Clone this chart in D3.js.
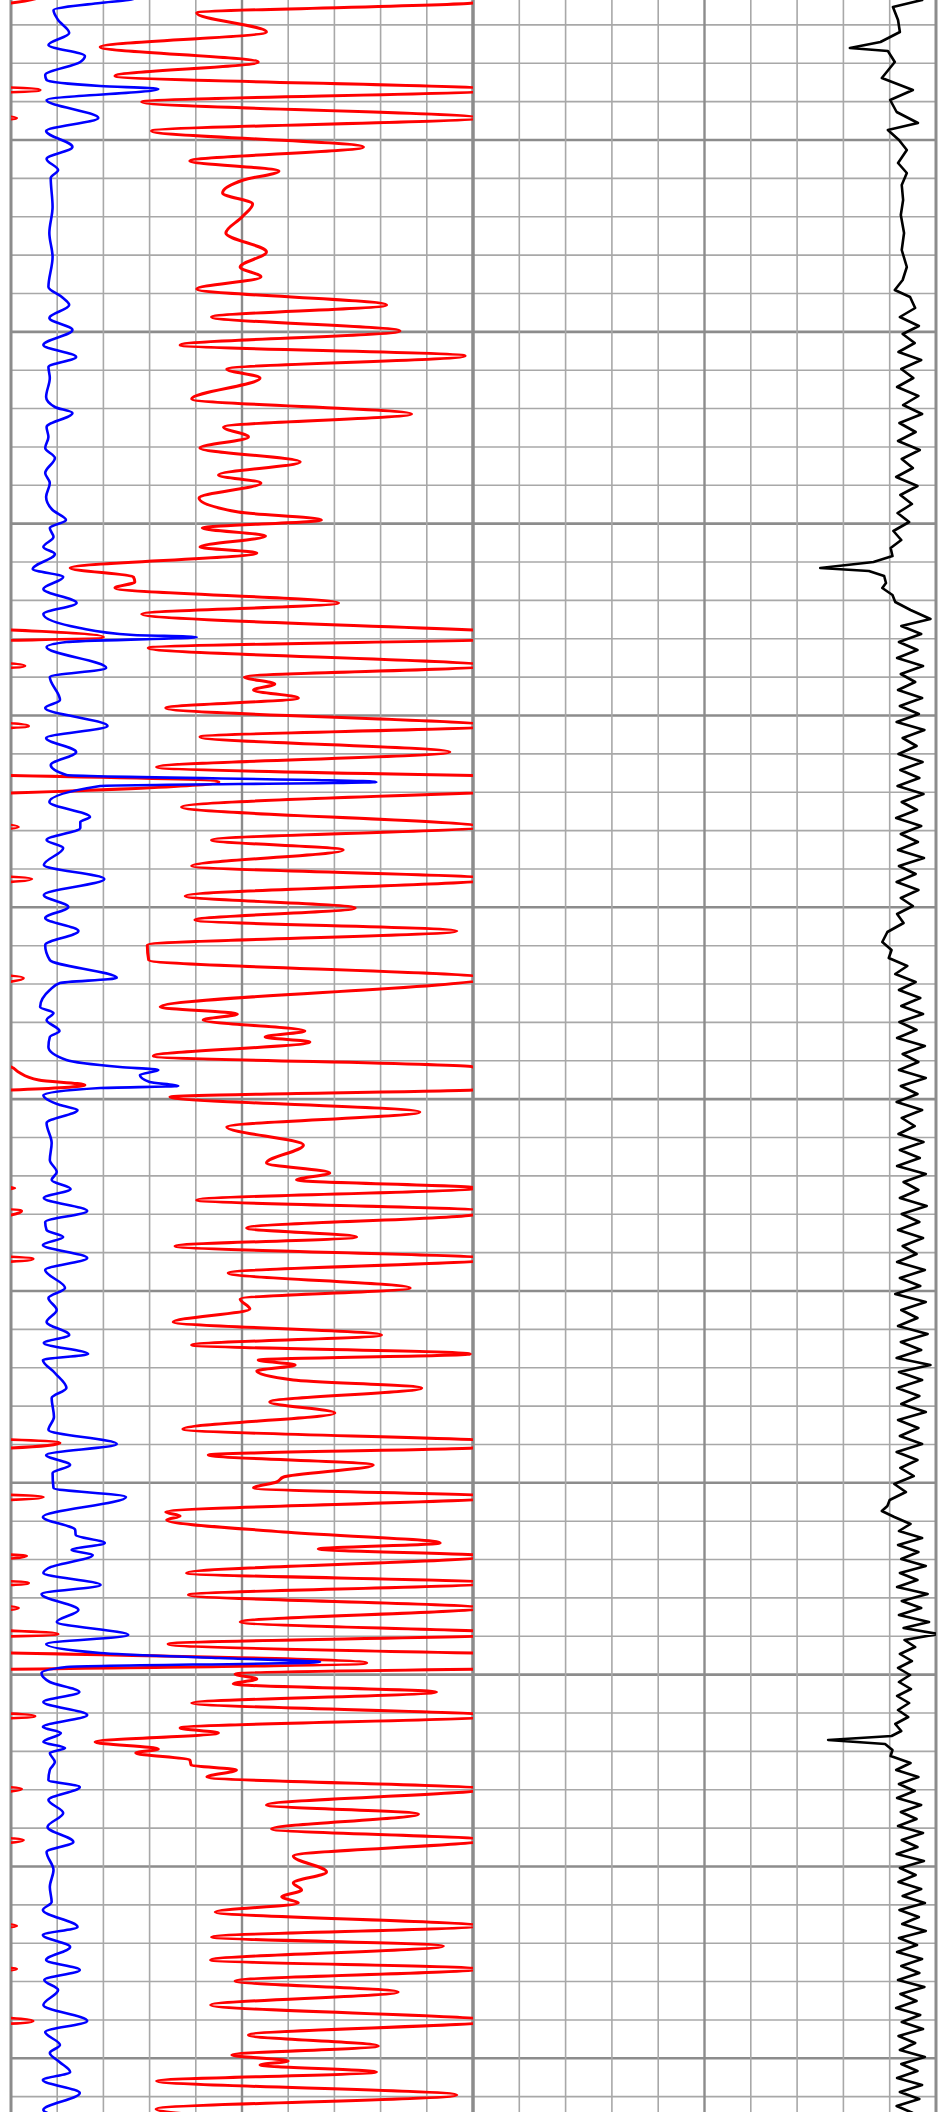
<!DOCTYPE html>
<html><head><meta charset="utf-8">
<script src="https://cdn.jsdelivr.net/npm/d3@7"></script>
<style>html,body{margin:0;padding:0;background:#fff;}svg{display:block}</style>
</head><body>
<svg id="chart" width="945" height="2112"></svg>
<script>
// depth range shown (m)
const depthRange = [1500, 1711.2];
// grid: minor step and a reference major line
const gridStep = 3.8366;
const gridMajorDepth = 1514.0;
const trackTicks = [0,10,20,30,40,50,60,70,80,90,100];
const majorTicks = [0,50,100];
// red curve (left track, 0-100 scale with backup wrap 100-200)
const redCurve = [
[1499.6,107],[1500.3,100],[1501.3,40.2],[1503.2,55.3],[1504.7,19.3],[1506.2,53.5],[1507.6,22.5],[1509.0,106.3],[1510.2,28.3],
[1511.8,101.2],[1513.1,30.4],[1514.7,76.3],[1516.1,38.7],[1517.1,58],[1518.0,50.3],[1519.3,45.8],[1520.4,52.3],[1521.7,50],
[1523.3,46.5],[1525.2,55.3],[1526.7,49.6],[1527.7,54.1],[1528.9,40.2],[1530.5,81.3],[1531.7,43.4],[1533.1,84.2],[1534.5,36.6],
[1535.6,98.3],[1536.9,46.7],[1537.8,53.9],[1539.9,39.1],[1541.4,86.7],[1542.7,46],[1543.7,51.4],[1544.8,40.9],[1546.2,62.6],
[1547.5,44.9],[1548.3,54.1],[1549.8,40.7],[1551.2,49.2],[1552.0,67.2],[1552.8,41.4],[1553.6,55.1],[1554.7,40.9],[1555.3,53.2],
[1556.8,12.8],[1557.7,26.5],[1558.2,26.8],[1558.8,22.5],[1560.3,70.9],[1561.4,28.3],[1563.7,120],[1564.8,29.7],[1566.6,103],
[1567.7,50.5],[1568.4,57.1],[1569.0,52.5],[1569.8,62.2],[1570.8,33.5],[1572.6,103.8],[1573.7,40.9],[1575.2,95],[1576.7,31.5],
[1578.2,145],[1580.7,36.9],[1582.7,101.6],[1584.0,43.4],[1585.0,71.9],[1586.6,39.1],[1587.9,104.5],[1589.6,37.7],[1590.8,74.5],
[1592.0,39.8],[1593.1,96.5],[1594.5,29.5],[1596.0,29.8],[1597.8,102.7],[1600.7,32.3],[1601.4,49],[1602.0,41.6],[1603.1,63.6],
[1603.7,55],[1604.2,64.7],[1605.6,30.8],[1606.7,100],[1607.2,101.6],[1608.0,106],[1608.5,116],[1609.0,100],[1609.7,34.4],
[1611.2,88.5],[1612.7,46.7],[1614.5,63.3],[1616.3,55.3],[1617.3,69],[1618.0,61.8],[1618.8,100.8],[1620.0,40.2],[1621.1,102.3],
[1621.5,100],[1622.8,51],[1623.7,74.8],[1624.6,35.5],[1625.9,104.8],[1627.3,47],[1628.8,86.4],[1629.9,49.6],[1630.9,51.7],
[1632.2,35.1],[1633.5,80.2],[1634.5,39.1],[1635.4,99.4],[1636.0,53.5],[1636.5,61.5],[1637.1,53.2],[1638.0,61.1],[1638.8,88.9],
[1640.2,56],[1641.3,70.1],[1642.9,37.2],[1644.3,110.6],[1644.8,100],[1645.5,42.7],[1646.5,78.4],[1647.7,59],[1648.2,57.5],
[1648.8,52.5],[1649.7,107],[1651.2,33.5],[1651.6,36.6],[1652.0,33.7],[1653.2,59],[1654.3,92.9],[1654.9,66.5],[1655.6,103.4],
[1657.3,38],[1658.3,103.8],[1659.5,38.4],[1660.8,101.6],[1662.2,49.6],[1663.4,110.2],[1664.4,34],[1666.3,177],[1667.4,48.5],
[1667.9,53.2],[1668.4,48.1],[1669.2,92.1],[1670.3,39.1],[1671.6,105.2],[1672.8,36.6],[1673.3,44.9],[1674.2,18.2],[1674.9,31.9],
[1675.3,27],[1676.0,38.7],[1676.5,39],[1677.0,48.8],[1677.7,42.4],[1678.9,102.3],[1680.5,55.3],[1681.4,88.2],[1682.9,56.4],
[1684.0,102.7],[1685.6,61.1],[1687.2,68.3],[1688.3,61.1],[1689.0,62.9],[1689.7,58.6],[1690.3,62.2],[1691.2,44.2],[1692.6,101.2],
[1693.7,43.4],[1694.6,93.6],[1696.0,43.2],[1696.9,101.2],[1698.1,48.5],[1699.2,83.8],[1700.5,43.2],[1702.1,104.8],[1703.5,51.4],
[1704.6,79.5],[1705.5,47.8],[1706.1,60],[1706.5,53.9],[1707.2,79.1],[1708.1,31.5],[1709.5,96.5],[1710.9,31.4],[1711.5,40]
];
// blue curve (left track, 0-100 scale)
const blueCurve = [
[1499.6,28],[1500.0,25.4],[1500.3,19.3],[1501.0,9.2],[1502.0,10.2],[1503.3,12.6],[1504.5,8.1],[1505.6,16],[1506.2,15],[1507.5,7.4],
[1508.0,7.7],[1508.6,19.3],[1508.9,31.9],[1510.0,7.7],[1511.8,18.9],[1513.1,7.6],[1514.7,13.3],[1515.9,7.7],[1517.0,10.2],
[1517.8,8.6],[1520.7,9],[1523.3,8.3],[1525.7,9],[1528.7,8.1],[1529.7,11],[1530.5,12.6],[1531.8,8.3],[1533.0,13.3],[1534.5,7],
[1535.7,14.1],[1536.7,8.1],[1537.8,8.4],[1539.7,7.6],[1540.7,9.5],[1541.3,13.3],[1542.7,7.7],[1543.7,8.1],[1544.8,7.4],
[1545.8,9.5],[1547.3,7.4],[1548.3,8.4],[1549.7,7.6],[1551.0,9],[1552.0,11.9],[1552.8,8.4],[1553.7,9.2],[1554.7,7],[1555.4,9.5],
[1556.9,4.7],[1557.7,11.3],[1558.9,7],[1560.3,14.2],[1561.4,7],[1562.8,14.9],[1563.5,26.5],[1563.7,40.2],[1564.2,12],
[1564.7,7.7],[1566.8,20.6],[1567.7,8.4],[1570.0,10.6],[1570.8,7.4],[1572.6,20.9],[1573.8,7.6],[1575.2,14.1],[1576.5,8.6],
[1577.5,12],[1578.2,79.1],[1578.6,19.3],[1580.2,8.3],[1581.7,17.1],[1582.2,15],[1582.8,15],[1584.0,7.7],[1584.8,11.3],
[1586.5,7.1],[1587.9,20.2],[1589.5,7.1],[1590.7,12.4],[1591.8,7.4],[1593.1,14.6],[1594.5,7.4],[1596.0,8.4],[1597.8,22.9],
[1598.3,10.6],[1599.0,8.4],[1600.7,6.3],[1601.3,9.2],[1602.0,7.7],[1603.1,10.5],[1603.7,8.4],[1604.7,8.1],[1606.0,12],
[1606.7,23.6],[1607.0,31.9],[1607.5,27.9],[1608.2,30],[1608.6,36.2],[1608.8,19.3],[1609.5,7],[1610.5,10.6],[1611.0,14.4],
[1612.3,7.7],[1614.3,8.8],[1616.0,8.4],[1617.2,9.9],[1618.0,8.8],[1618.9,12.9],[1619.8,7.1],[1621.1,16.5],[1622.2,7.4],
[1623.0,7.7],[1623.7,11.3],[1624.5,6.9],[1625.8,16.5],[1627.0,7.4],[1628.8,11.7],[1629.8,8.1],[1631.0,9.9],[1632.2,7.7],
[1633.5,12.6],[1634.3,7.1],[1635.4,16.7],[1636.0,6.9],[1637.3,9.5],[1638.8,12],[1639.8,8.8],[1641.7,9.3],[1643.0,8.1],
[1644.4,22.9],[1645.5,7.6],[1646.5,12.8],[1647.3,9],[1648.8,9.2],[1649.7,24.9],[1651.7,6.9],[1653.0,13.9],[1653.5,14],
[1654.3,20.3],[1655.0,13.1],[1655.5,17.7],[1656.8,8.1],[1657.3,7],[1658.5,19.4],[1659.4,6.6],[1661.0,14.6],[1662.2,9.9],
[1663.5,25.4],[1664.4,7.6],[1665.3,19.3],[1665.8,45],[1666.2,66.9],[1666.7,12],[1667.3,6.6],[1668.2,8.4],[1669.2,14.8],
[1670.2,7],[1671.5,16.5],[1672.7,6.9],[1673.3,10.8],[1674.2,7],[1674.8,11.7],[1675.3,8.4],[1676.2,9.5],[1677.0,8.4],
[1678.0,8.1],[1678.7,14.9],[1680.0,8.1],[1681.3,11.3],[1682.7,7.9],[1684.2,13.5],[1685.2,7.7],[1687.0,9.2],[1688.7,8.4],
[1690.2,8.8],[1691.0,6.9],[1692.7,14.4],[1693.5,6.9],[1694.7,12.8],[1696.0,7.6],[1697.0,14.9],[1698.0,7.2],[1699.0,10.2],
[1700.5,7],[1702.1,16.5],[1703.2,7.4],[1704.5,10.6],[1705.3,8.4],[1706.2,10.5],[1707.2,12.8],[1708.0,6.9],[1709.3,14.9],
[1711.0,7],[1711.5,9]
];
// black curve (right track, 0-100 scale)
const blackCurve = [
[1499.6,97.5],[1500.0,97],[1500.7,90.7],[1502.0,91.8],[1503.2,92.2],[1504.2,88],[1504.8,81.4],[1505.1,89.6],[1506.2,91.1],[1507.8,88.3],
[1509.0,95],[1510.0,90.1],[1511.2,91.5],[1512.3,96.1],[1513.0,89.6],[1514.0,92],[1515.0,93.7],[1516.3,91.8],[1517.3,93.7],[1518.5,92.6],
[1520.0,92.9],[1521.5,92.4],[1523.3,93.1],[1525.0,92.6],[1526.7,93.7],[1528.0,92.8],[1529.0,91.1],[1529.7,94.4],
[1530.8,95.5],[1531.7,92.2],[1532.6,96.3],[1533.4,92.8],[1534.3,95.4],[1535.2,91.9],[1536.0,96.8],[1536.9,92.5],[1537.8,95.1],
[1538.7,91.6],[1539.6,96.2],[1540.5,92.9],[1541.4,97.0],[1542.3,92.1],[1543.2,95.6],[1544.1,91.8],[1545.0,96.5],[1545.9,92.6],
[1546.8,95.0],[1547.7,91.4],[1548.6,96.0],[1549.5,92.3],[1550.4,94.8],[1551.3,91.7],[1552.2,94.2],[1553.1,90.8],[1554.0,92.5],
[1554.8,90.2],[1555.6,90.6],[1556.2,86.5],[1556.8,75],[1557.1,85.5],[1557.6,88.8],[1558.3,89.2],[1558.8,88.4],[1559.5,90.6],
[1560.2,91.2],[1561.0,94.5],[1561.9,98.8],[1562.6,92.5],[1563.4,96.8],[1564.2,92.0],[1565.0,96.0],[1565.8,91.6],[1566.6,97.2],
[1567.4,92.4],[1568.2,95.5],[1569.0,91.8],[1569.8,97.0],[1570.6,92.2],[1571.4,96.3],[1572.2,91.5],[1573.0,97.5],[1573.8,92.8],
[1574.6,95.8],[1575.4,91.9],[1576.2,97.1],[1577.0,92.3],[1577.8,96.4],[1578.6,91.7],[1579.4,97.3],[1580.2,92.6],[1581.0,95.9],
[1581.8,91.4],[1582.6,96.8],[1583.4,92.4],[1584.2,96.1],[1585.0,91.8],[1585.8,97.4],[1586.6,92.0],[1587.4,95.6],[1588.2,91.5],
[1589.0,96.2],[1589.8,92.4],[1590.6,95.0],[1591.4,91.6],[1592.3,93.0],[1593.2,89.5],[1594.2,88.4],[1595.0,90.4],[1595.8,89.8],
[1596.6,93.8],[1597.4,91.2],[1598.2,95.6],[1599.0,92.0],[1599.8,96.6],[1600.6,92.5],[1601.4,97.2],[1602.2,92.1],[1603.0,95.8],
[1603.8,91.6],[1604.6,97.6],[1605.4,92.8],[1606.2,96.2],[1607.0,92.0],[1607.8,97.8],[1608.6,92.4],[1609.4,96.0],[1610.2,91.5],
[1611.0,97.0],[1611.8,92.6],[1612.6,95.4],[1613.4,91.9],[1614.2,97.3],[1615.0,92.2],[1615.8,96.5],[1616.6,91.6],[1617.4,97.8],
[1618.2,93.0],[1619.0,96.2],[1619.8,92.2],[1620.6,98.0],[1621.4,92.6],[1622.2,96.4],[1623.0,91.8],[1623.8,97.2],[1624.6,92.8],
[1625.4,95.8],[1626.2,91.6],[1627.0,97.6],[1627.8,92.2],[1628.6,96.6],[1629.4,91.2],[1630.2,97.8],[1631.0,92.5],[1631.8,96.0],
[1632.6,91.8],[1633.4,98.2],[1634.2,92.4],[1635.0,96.8],[1635.8,91.5],[1636.5,98.8],[1637.2,92.0],[1638.0,97.0],[1638.8,91.6],
[1639.6,96.4],[1640.4,92.5],[1641.2,97.8],[1642.0,91.8],[1642.8,96.2],[1643.6,92.2],[1644.4,97.0],[1645.2,91.5],[1646.0,96.0],
[1646.8,92.3],[1647.6,95.2],[1648.4,91.0],[1649.2,93.5],[1650.0,90.0],[1650.6,89.5],[1651.1,88.3],[1651.7,91.0],[1652.4,94.5],
[1653.1,92.0],[1653.8,97.0],[1654.5,91.8],[1655.2,96.2],[1655.9,92.5],[1656.6,97.8],[1657.3,92.2],[1658.0,96.0],[1658.7,91.6],
[1659.4,98.2],[1660.1,92.6],[1660.8,96.8],[1661.5,92.0],[1662.2,98.5],[1662.8,93.0],[1663.4,100.5],[1664.0,93.2],[1664.7,95.5],
[1665.4,92.2],[1666.1,94.8],[1666.8,91.8],[1667.5,94.4],[1668.2,92.0],[1668.9,94.6],[1669.6,91.6],[1670.3,94.2],[1671.0,91.8],
[1671.7,94.0],[1672.4,91.2],[1673.1,92.5],[1673.6,90.4],[1674.0,76.7],[1674.4,89.0],[1675.0,90.6],[1675.6,90.2],[1676.3,94.5],
[1677.0,91.4],[1677.7,96.2],[1678.4,92.0],[1679.1,95.4],[1679.8,91.6],[1680.5,96.8],[1681.2,92.4],[1681.9,95.8],[1682.6,91.8],
[1683.3,97.2],[1684.0,92.6],[1684.7,96.0],[1685.4,91.5],[1686.1,97.4],[1686.8,92.2],[1687.5,95.6],[1688.2,91.9],[1688.9,96.8],
[1689.6,92.8],[1690.3,97.6],[1691.0,92.1],[1691.7,96.3],[1692.4,92.7],[1693.1,97.8],[1693.8,92.0],[1694.5,95.9],[1695.2,91.6],
[1695.9,97.0],[1696.6,92.5],[1697.3,96.4],[1698.0,91.8],[1698.7,97.5],[1699.4,92.3],[1700.1,95.8],[1700.8,91.4],[1701.5,96.6],
[1702.2,92.6],[1702.9,97.2],[1703.6,91.9],[1704.3,95.5],[1705.0,92.2],[1705.7,97.6],[1706.4,92.5],[1707.1,96.0],[1707.8,91.6],
[1708.5,97.0],[1709.2,92.2],[1709.9,96.4],[1710.6,91.5],[1711.3,95.0]
];

const W = 945, H = 2112;
const svg = d3.select('#chart');
const y = d3.scaleLinear().domain(depthRange).range([0, H]);
const xL = d3.scaleLinear().domain([0, 100]).range([11, 473]);
const xR = d3.scaleLinear().domain([0, 100]).range([473, 936]);

// grid depths
const gridDepths = [];
let k0 = Math.ceil((depthRange[0] - gridMajorDepth) / gridStep);
for (let k = k0; gridMajorDepth + k * gridStep <= depthRange[1]; k++) {
  gridDepths.push({d: gridMajorDepth + k * gridStep, major: ((k % 5) + 5) % 5 === 0});
}
const g = svg.append('g');
g.selectAll('line.h').data(gridDepths).join('line')
  .attr('x1', xL(0)).attr('x2', xR(100))
  .attr('y1', d => y(d.d)).attr('y2', d => y(d.d))
  .attr('stroke', d => d.major ? '#8c8c8c' : '#a8a8a8')
  .attr('stroke-width', d => d.major ? 2.6 : 1.6);
[xL, xR].forEach(sc => {
  g.selectAll(null).data(trackTicks).join('line')
    .attr('x1', d => sc(d)).attr('x2', d => sc(d))
    .attr('y1', 0).attr('y2', H)
    .attr('stroke', d => majorTicks.includes(d) ? '#8c8c8c' : '#a8a8a8')
    .attr('stroke-width', d => (d === 0 || d === 100) ? 3 : (d === 50 ? 2.4 : 1.6));
});

const defs = svg.append('defs');
defs.append('clipPath').attr('id', 'clipL').append('rect')
  .attr('x', xL(0)).attr('y', 0).attr('width', xL(100) - xL(0)).attr('height', H);
defs.append('clipPath').attr('id', 'clipR').append('rect')
  .attr('x', xR(0)).attr('y', 0).attr('width', xR(100) - xR(0)).attr('height', H);

const mkLine = (sc, off, curve) => d3.line()
  .x(d => sc(d[1] - off)).y(d => y(d[0])).curve(curve);

const left = svg.append('g').attr('clip-path', 'url(#clipL)');
left.append('path').datum(redCurve).attr('d', mkLine(xL, 0, d3.curveMonotoneY))
  .attr('fill', 'none').attr('stroke', '#ff0000').attr('stroke-width', 3).attr('stroke-linejoin', 'round');
left.append('path').datum(redCurve).attr('d', mkLine(xL, 100, d3.curveMonotoneY))
  .attr('fill', 'none').attr('stroke', '#ff0000').attr('stroke-width', 3).attr('stroke-linejoin', 'round');
left.append('path').datum(blueCurve).attr('d', mkLine(xL, 0, d3.curveMonotoneY))
  .attr('fill', 'none').attr('stroke', '#0000ff').attr('stroke-width', 2.6).attr('stroke-linejoin', 'round');

const right = svg.append('g').attr('clip-path', 'url(#clipR)');
right.append('path').datum(blackCurve).attr('d', mkLine(xR, 0, d3.curveLinear))
  .attr('fill', 'none').attr('stroke', '#000').attr('stroke-width', 2.6).attr('stroke-linejoin', 'round');
</script>
</body></html>
